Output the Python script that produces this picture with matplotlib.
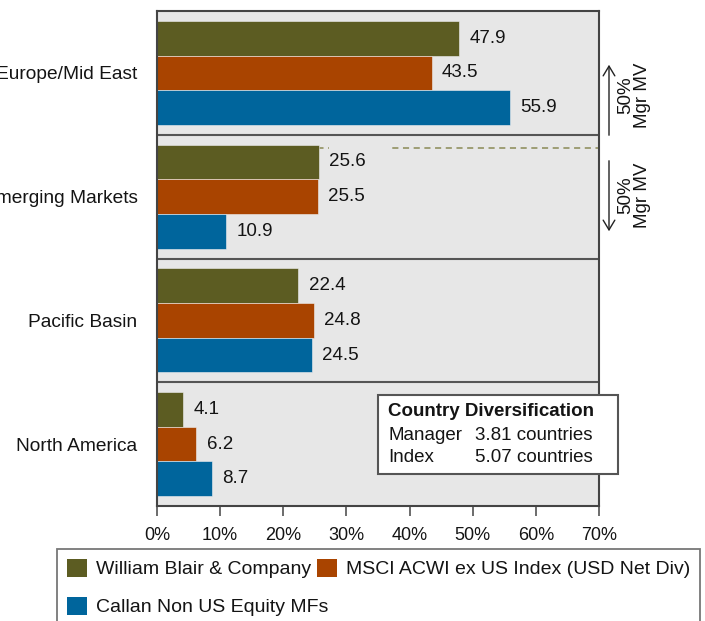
import matplotlib
matplotlib.use("Agg")
import matplotlib.pyplot as plt
import numpy as np
from matplotlib.patches import Rectangle, FancyArrowPatch

plt.rcParams['font.family'] = ['Liberation Sans', 'DejaVu Sans']

# ---- data -------------------------------------------------------------
regions = ["Europe/Mid East", "Emerging Markets", "Pacific Basin", "North America"]
series_names = ["William Blair & Company",
                "MSCI ACWI ex US Index (USD Net Div)",
                "Callan Non US Equity MFs"]
manager = [47.9, 25.6, 22.4, 4.1]
index = [43.5, 25.5, 24.8, 6.2]
peer_group = [55.9, 10.9, 24.5, 8.7]
x_ticks = [0, 10, 20, 30, 40, 50, 60, 70]
div_labels = ["Manager", "Index"]
div_values = ["3.81 countries", "5.07 countries"]

# ---- style ------------------------------------------------------------
colors = ["#5C5C22", "#A94400", "#00659C"]
bg = "#E7E7E7"
frame = "#444444"
txt = "#141414"
FS = 13.5

W, H = 705, 621
fig = plt.figure(figsize=(W / 100, H / 100), dpi=100)


def fx(px):
    return px / W


def fy(py):
    return 1 - py / H


ax = fig.add_axes([fx(157), fy(506), fx(599) - fx(157), fy(11) - fy(506)])
ax.set_facecolor(bg)

n = len(regions)
y = np.arange(n)
bar_h = 0.28
all_series = [manager, index, peer_group]

# 50% manager market value boundary (dashed), drawn beneath the bars
boundary_y = 0.61
ax.hlines(boundary_y, 0, 70, colors="#8A8A55", linestyles=(0, (4, 3)),
          linewidth=1.1, zorder=1)

for i, (vals, c) in enumerate(zip(all_series, colors)):
    pos = y + (i - 1) * bar_h
    ax.barh(pos, vals, height=bar_h, color=c, edgecolor="#F0F0F0",
            linewidth=0.4, zorder=2)
    for p, v in zip(pos, vals):
        ax.annotate(f"{v:.1f}", xy=(v, p), xytext=(7.5, 0),
                    textcoords="offset points", ha="left", va="center",
                    fontsize=FS, color=txt, zorder=4)

# label background that interrupts the dashed boundary
px_per_unit = (599 - 157) / 70
ax.add_patch(Rectangle((manager[1] + 10 / px_per_unit, boundary_y - 0.04),
                       62 / px_per_unit, 0.08, facecolor=bg,
                       edgecolor="none", zorder=3))

# separators between regions
for k in range(1, n):
    ax.axhline(k - 0.5, color="#555555", linewidth=1.5, zorder=3)

ax.set_xlim(0, 70)
ax.set_ylim(n - 0.5, -0.5)
ax.set_yticks(y)
ax.set_yticklabels(regions, fontsize=13.8, color=txt)
ax.set_xticks(x_ticks)
ax.set_xticklabels([f"{t}%" for t in x_ticks], fontsize=13, color=txt)
ax.tick_params(axis="y", length=0, pad=14)
ax.tick_params(axis="x", length=7, width=1.1, color=frame, pad=8)
for s in ax.spines.values():
    s.set_color(frame)
    s.set_linewidth(1.5)
    s.set_zorder(5)

# ---- side annotations -------------------------------------------------
for (y0, y1, yc) in [(138, 62, 95), (158, 234, 195)]:
    fig.add_artist(FancyArrowPatch((fx(609), fy(y0)), (fx(609), fy(y1)),
                                   transform=fig.transFigure,
                                   arrowstyle="->,head_length=0.5,head_width=0.3",
                                   mutation_scale=14, color="#222222",
                                   linewidth=1.0))
    fig.text(fx(634), fy(yc), "50%\nMgr MV", rotation=90, ha="center",
             va="center", fontsize=FS, color=txt, linespacing=1.0,
             multialignment="center")

# ---- country diversification box -------------------------------------
fig.add_artist(Rectangle((fx(378), fy(474)), fx(618) - fx(378),
                         fy(395) - fy(474), transform=fig.transFigure,
                         facecolor="white", edgecolor="#555555",
                         linewidth=1.5, zorder=6))
fig.text(fx(388), fy(412), "Country Diversification", fontsize=FS,
         fontweight="bold", color=txt, va="center", zorder=7)
for j, (lab, val) in enumerate(zip(div_labels, div_values)):
    fig.text(fx(388), fy(435 + 23 * j), lab, fontsize=FS, color=txt,
             va="center", zorder=7)
    fig.text(fx(475), fy(435 + 23 * j), val, fontsize=FS, color=txt,
             va="center", zorder=7)

# ---- legend -----------------------------------------------------------
handles = [Rectangle((0, 0), 1, 1, facecolor=c) for c in colors]
order = [0, 2, 1]
leg = fig.legend([handles[k] for k in order], [series_names[k] for k in order],
                 loc="upper left", bbox_to_anchor=(fx(57), fy(549)),
                 bbox_transform=fig.transFigure, ncol=2, fontsize=14,
                 frameon=True, fancybox=False, shadow=False,
                 borderaxespad=0, borderpad=0.5, handlelength=1.03,
                 handleheight=1.03, handletextpad=0.46, columnspacing=-0.55,
                 labelspacing=0.95)
leg.get_frame().set_edgecolor("#555555")
leg.get_frame().set_linewidth(1.3)
for t in leg.get_texts():
    t.set_color(txt)

fig.savefig("out.png", dpi=100)
